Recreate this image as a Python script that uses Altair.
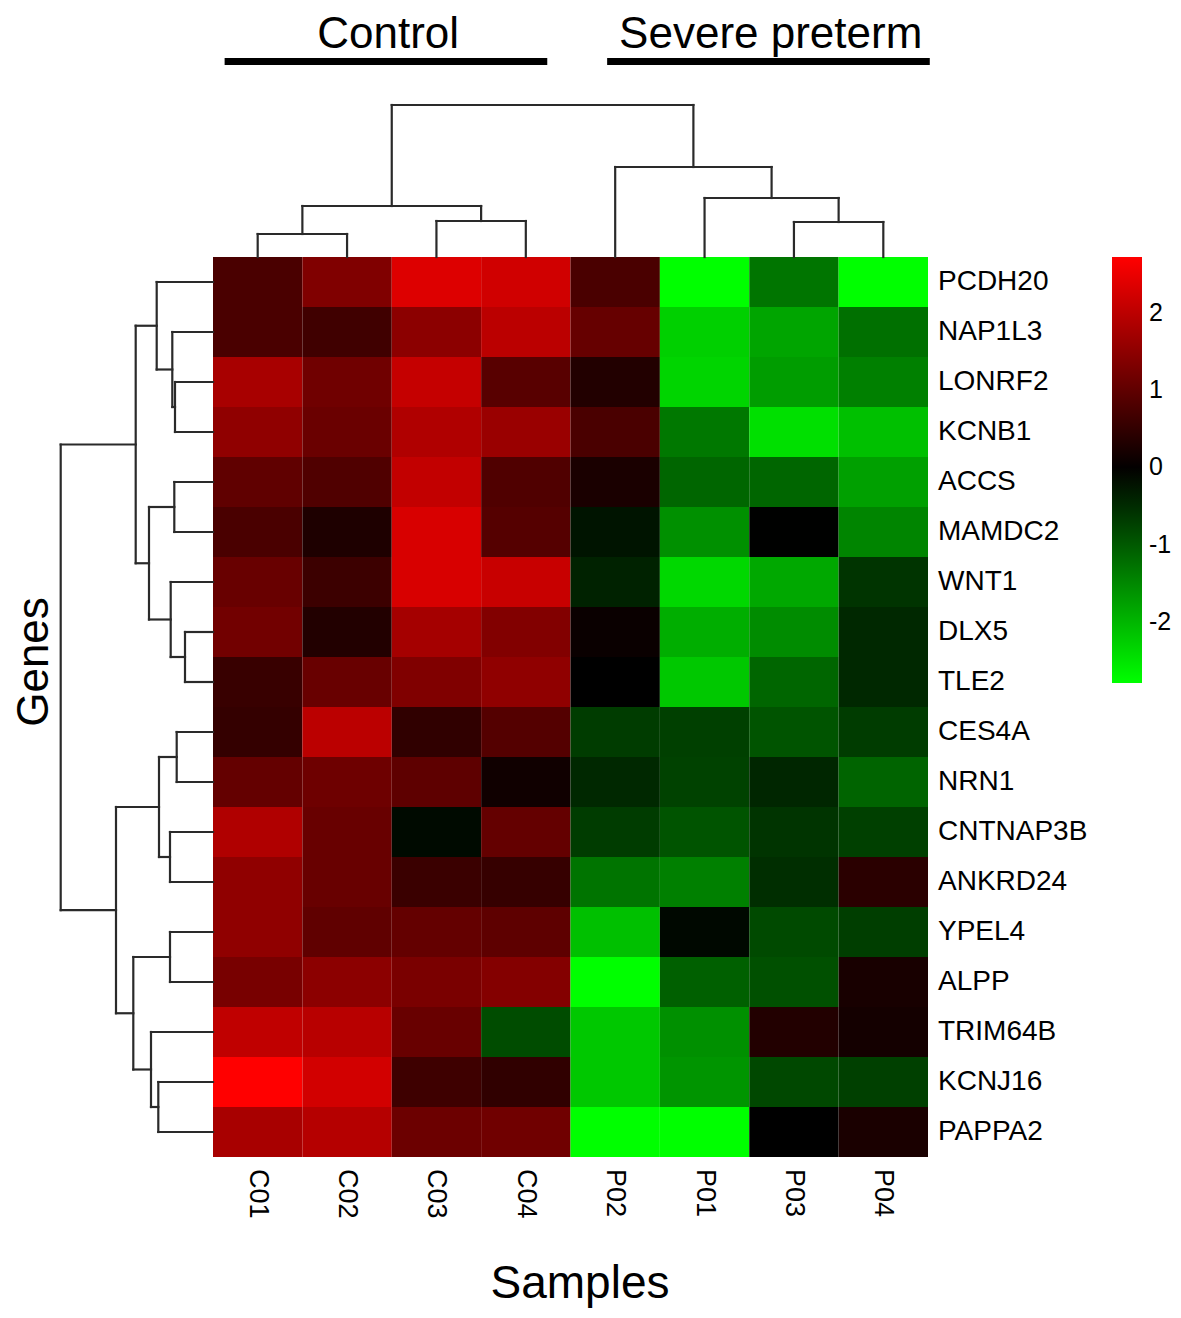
import altair as alt
import pandas as pd

# ---------------- data ----------------
samples = ["C01", "C02", "C03", "C04", "P02", "P01", "P03", "P04"]
genes = ["PCDH20", "NAP1L3", "LONRF2", "KCNB1", "ACCS", "MAMDC2", "WNT1", "DLX5", "TLE2",
         "CES4A", "NRN1", "CNTNAP3B", "ANKRD24", "YPEL4", "ALPP", "TRIM64B", "KCNJ16", "PAPPA2"]

# row z-scores per sample (gene order as above)
C01 = [0.76, 0.76, 1.78, 1.52, 1.00, 0.76, 1.09, 1.20, 0.57, 0.53, 1.05, 1.87, 1.52, 1.52, 1.26, 2.04, 2.72, 1.78]
C02 = [1.35, 0.66, 1.17, 1.11, 0.83, 0.29, 0.61, 0.33, 1.09, 1.98, 1.15, 1.09, 1.09, 1.00, 1.48, 1.95, 2.23, 1.92]
C03 = [2.35, 1.48, 2.09, 1.87, 2.06, 2.30, 2.30, 1.75, 1.35, 0.48, 0.98, -0.14, 0.59, 1.05, 1.28, 1.09, 0.63, 1.13]
C04 = [2.21, 1.98, 0.92, 1.63, 0.83, 0.88, 2.13, 1.37, 1.52, 0.87, 0.14, 1.05, 0.55, 0.98, 1.39, -0.86, 0.48, 1.17]
P02 = [0.76, 1.07, 0.33, 0.76, 0.25, -0.25, -0.40, 0.07, -0.03, -0.68, -0.47, -0.68, -1.29, -2.11, -2.79, -2.20, -2.20, -2.79]
P01 = [-2.79, -2.28, -2.34, -1.33, -1.14, -1.59, -2.37, -1.91, -2.20, -0.73, -0.75, -0.94, -1.42, -0.12, -1.07, -1.59, -1.64, -2.79]
P03 = [-1.30, -1.82, -1.73, -2.45, -1.14, -0.05, -1.85, -1.55, -1.14, -0.94, -0.45, -0.60, -0.53, -0.83, -0.90, 0.33, -0.81, -0.04]
P04 = [-2.79, -1.25, -1.42, -2.11, -1.76, -1.47, -0.60, -0.47, -0.47, -0.68, -1.12, -0.73, 0.42, -0.70, 0.22, 0.18, -0.73, 0.25]
columns = [C01, C02, C03, C04, P02, P01, P03, P04]

# column dendrogram (leaf ids = display order 0..7, new nodes numbered from 8)
col_merge_a = [0, 2, 8, 6, 5, 4, 10]
col_merge_b = [1, 3, 9, 7, 11, 12, 13]
col_merge_h = [1.15, 1.80, 2.55, 1.75, 2.95, 4.50, 7.60]

# row dendrogram (leaf ids = display order 0..17, new nodes numbered from 18)
row_merge_a = [2, 1, 0, 4, 7, 6, 21, 20, 9, 11, 26, 13, 16, 15, 29, 28, 25]
row_merge_b = [3, 18, 19, 5, 8, 22, 23, 24, 10, 12, 27, 14, 17, 30, 31, 32, 33]
row_merge_h = [1.90, 2.035, 2.815, 1.935, 1.40, 2.115, 3.20, 3.865, 1.815, 2.15, 2.70,
               2.15, 2.735, 3.10, 3.985, 4.85, 7.615]

group_names = ["Control", "Severe preterm"]
group_first = [0, 4]
group_last = [3, 7]

legend_values = [-2, -1, 0, 1, 2]
z_min, z_mid, z_max = -2.79, -0.035, 2.72

# ---------------- layout (pixels) ----------------
W, H = 1165, 1300
MARGIN = 8
HM_LEFT, HM_TOP = 213, 257
CW = 715 / len(samples)       # column width
RH = 900 / len(genes)         # row height
PX_PER_DIST = 20.0            # dendrogram pixels per distance unit
FONT = "Liberation Sans"


def ux(p):
    return (p - HM_LEFT) / CW


def uy(p):
    return (p - HM_TOP) / RH


X0, X1 = ux(MARGIN), ux(MARGIN + W)
Y0, Y1 = uy(MARGIN), uy(MARGIN + H)
xs = alt.Scale(domain=[X0, X1], nice=False, zero=False)
ys = alt.Scale(domain=[Y0, Y1], nice=False, zero=False, reverse=True)

# ---------------- heatmap cells ----------------
cells = []
for j, s in enumerate(samples):
    for i, g in enumerate(genes):
        cells.append({"sample": s, "gene": g, "value": columns[j][i],
                      "x0": j, "x1": j + 1, "y0": i, "y1": i + 1})
cells = pd.DataFrame(cells)

cscale = alt.Scale(domain=[z_min, z_mid, z_max], range=["#00FF00", "#000000", "#FF0000"],
                   interpolate="rgb")

heat = alt.Chart(cells).mark_rect(strokeWidth=0).encode(
    x=alt.X("x0:Q", scale=xs, axis=None),
    x2="x1:Q",
    y=alt.Y("y0:Q", scale=ys, axis=None),
    y2="y1:Q",
    fill=alt.Fill("value:Q", scale=cscale,
                  legend=alt.Legend(type="gradient", orient="none", legendX=1112 - MARGIN,
                                    legendY=HM_TOP - MARGIN,
                                    direction="vertical", title=None, values=legend_values,
                                    labelExpr="datum.value < 0 ? '-' + format(-datum.value, 'd') : format(datum.value, 'd')",
                                    gradientLength=426, gradientThickness=30,
                                    gradientStrokeWidth=0, labelFont=FONT, labelFontSize=25,
                                    labelColor="black", labelOffset=7, labelOverlap=False,
                                    padding=0)),
)


# ---------------- dendrograms ----------------
def dendro_segments(n_leaves, ma, mb, mh):
    pos = {i: i + 0.5 for i in range(n_leaves)}
    hgt = {i: 0.0 for i in range(n_leaves)}
    segs = []
    for k, (a, b, h) in enumerate(zip(ma, mb, mh)):
        node = n_leaves + k
        segs.append((pos[a], hgt[a], pos[a], h))
        segs.append((pos[b], hgt[b], pos[b], h))
        segs.append((pos[a], h, pos[b], h))
        pos[node] = (pos[a] + pos[b]) / 2
        hgt[node] = h
    return segs


top = []
for p1, h1, p2, h2 in dendro_segments(len(samples), col_merge_a, col_merge_b, col_merge_h):
    top.append({"x": p1, "x2": p2, "y": -h1 * PX_PER_DIST / RH, "y2": -h2 * PX_PER_DIST / RH})
left = []
for p1, h1, p2, h2 in dendro_segments(len(genes), row_merge_a, row_merge_b, row_merge_h):
    left.append({"y": p1, "y2": p2, "x": -h1 * PX_PER_DIST / CW, "x2": -h2 * PX_PER_DIST / CW})
dend = pd.DataFrame(top + left)

dendro = alt.Chart(dend).mark_rule(color="#2a2a2a", strokeWidth=2.2, strokeCap="square").encode(
    x=alt.X("x:Q", scale=xs, axis=None), x2="x2:Q",
    y=alt.Y("y:Q", scale=ys, axis=None), y2="y2:Q",
)

# ---------------- labels ----------------
gl = pd.DataFrame({"gene": genes, "y": [i + 0.5 for i in range(len(genes))],
                   "x": [len(samples)] * len(genes)})
gene_labels = alt.Chart(gl).mark_text(align="left", baseline="middle", dx=10, font=FONT,
                                      fontSize=28, color="black").encode(
    x=alt.X("x:Q", scale=xs, axis=None), y=alt.Y("y:Q", scale=ys, axis=None), text="gene:N")

sl = pd.DataFrame({"sample": samples, "x": [j + 0.5 for j in range(len(samples))],
                   "y": [len(genes)] * len(samples)})
sample_labels = alt.Chart(sl).mark_text(align="left", baseline="middle", angle=90, dx=12,
                                        font=FONT, fontSize=27, color="black").encode(
    x=alt.X("x:Q", scale=xs, axis=None), y=alt.Y("y:Q", scale=ys, axis=None), text="sample:N")

# group bars & titles
bar_inset_left = [0.13, 0.41]
bar_inset_right = [0.26, -0.02]
gb = pd.DataFrame({
    "name": group_names,
    "x": [f + il for f, il in zip(group_first, bar_inset_left)],
    "x2": [l + 1 - ir for l, ir in zip(group_last, bar_inset_right)],
    "y": [uy(61.5)] * 2,
    "ty": [uy(48)] * 2,
})
gb["xc"] = (gb["x"] + gb["x2"]) / 2 + 0.025
group_bars = alt.Chart(gb).mark_rule(color="black", strokeWidth=7).encode(
    x=alt.X("x:Q", scale=xs, axis=None), x2="x2:Q", y=alt.Y("y:Q", scale=ys, axis=None))
group_titles = alt.Chart(gb).mark_text(align="center", baseline="alphabetic", font=FONT,
                                       fontSize=44, color="black").encode(
    x=alt.X("xc:Q", scale=xs, axis=None), y=alt.Y("ty:Q", scale=ys, axis=None), text="name:N")

at = pd.DataFrame({"t": ["Genes"], "x": [ux(48)], "y": [uy(662)]})
genes_title = alt.Chart(at).mark_text(align="center", baseline="alphabetic", angle=270, font=FONT,
                                      fontSize=44, color="black").encode(
    x=alt.X("x:Q", scale=xs, axis=None), y=alt.Y("y:Q", scale=ys, axis=None), text="t:N")
st = pd.DataFrame({"t": ["Samples"], "x": [ux(580)], "y": [uy(1298)]})
samples_title = alt.Chart(st).mark_text(align="center", baseline="alphabetic", font=FONT,
                                        fontSize=46, color="black").encode(
    x=alt.X("x:Q", scale=xs, axis=None), y=alt.Y("y:Q", scale=ys, axis=None), text="t:N")

chart = alt.layer(heat, dendro, gene_labels, sample_labels, group_bars, group_titles,
                  genes_title, samples_title).properties(
    width=W, height=H, autosize=alt.AutoSizeParams(type="none"), padding=0,
    background="white",
).configure_view(strokeWidth=0)

chart.save("out.html", embed_options={"renderer": "svg", "actions": False})
